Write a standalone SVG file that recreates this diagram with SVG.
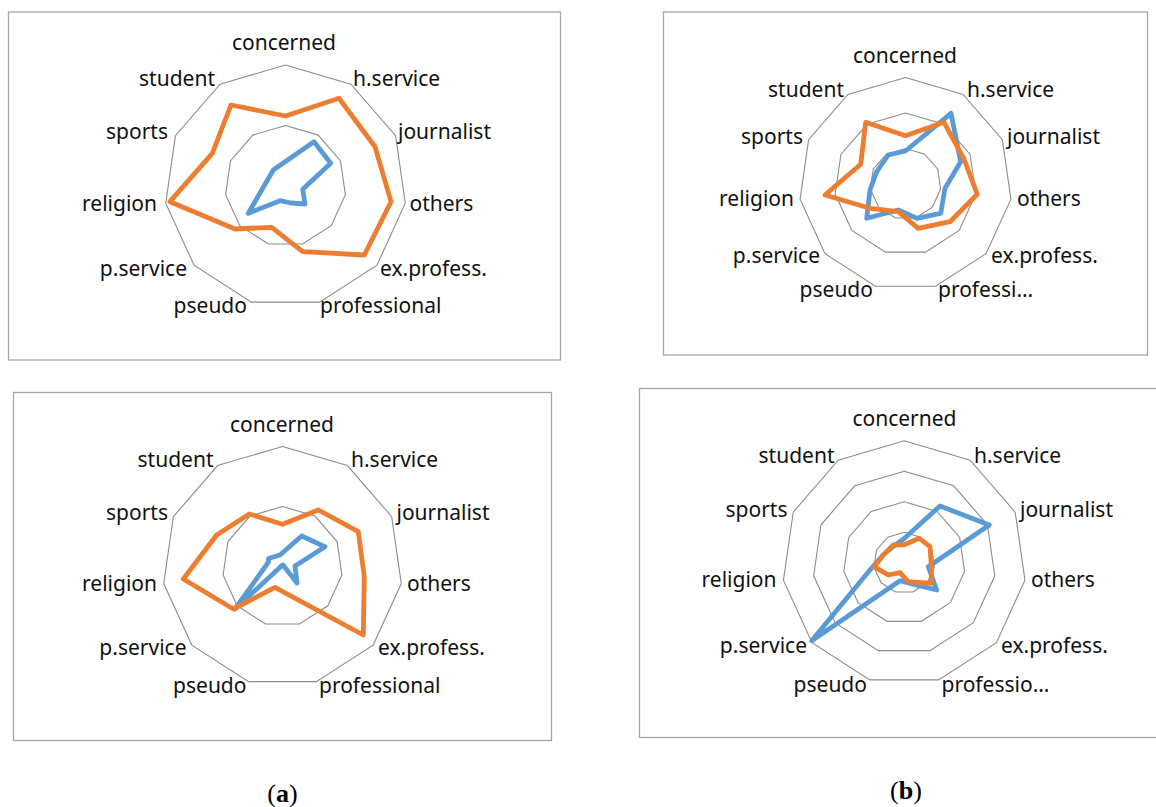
<svg xmlns="http://www.w3.org/2000/svg" xmlns:xlink="http://www.w3.org/1999/xlink" width="1156" height="807" viewBox="0 0 1156 807">
<style>
.frame{fill:#fff;stroke:#a6a6a6;stroke-width:1.3}
.ring{fill:none;stroke:#8c8c8c;stroke-width:1.1}
.lbl{font-family:"Noto Sans","Open Sans",sans-serif;font-size:21px;fill:#111}
.s{text-anchor:start}.e{text-anchor:end}.m{text-anchor:middle}
.blue{fill:none;stroke:#5b9bd5;stroke-width:4.8;stroke-linejoin:round}
.orange{fill:none;stroke:#ed7d31;stroke-width:4.8;stroke-linejoin:round}
.cap{font-family:"Liberation Serif","Times New Roman",serif;font-size:26px;fill:#000;text-anchor:middle}
</style>
<defs>
<path id="ring" d="M0,-1 L0.5406,-0.8413 L0.9096,-0.4154 L0.9898,0.1423 L0.7557,0.6549 L0.2817,0.9595 L-0.2817,0.9595 L-0.7557,0.6549 L-0.9898,0.1423 L-0.9096,-0.4154 L-0.5406,-0.8413 Z" vector-effect="non-scaling-stroke"/>
</defs>
<rect width="1156" height="807" fill="#fff"/>

<g id="chart1">
<rect class="frame" x="8.5" y="12" width="552" height="348"/>
<use class="ring" href="#ring" transform="translate(285.5 186) scale(121)"/>
<use class="ring" href="#ring" transform="translate(285.5 186) scale(60.5)"/>
<text class="lbl m" x="284" y="50">concerned</text>
<text class="lbl s" x="353" y="86">h.service</text>
<text class="lbl s" x="398" y="139">journalist</text>
<text class="lbl s" x="409.5" y="211">others</text>
<text class="lbl s" x="380" y="276">ex.profess.</text>
<text class="lbl s" x="320" y="312.5">professional</text>
<text class="lbl e" x="247" y="312.5">pseudo</text>
<text class="lbl e" x="187" y="276">p.service</text>
<text class="lbl e" x="157" y="211">religion</text>
<text class="lbl e" x="168" y="139">sports</text>
<text class="lbl e" x="215" y="86">student</text>
</g>

<g id="chart2">
<rect class="frame" x="663.5" y="12" width="484" height="343"/>
<use class="ring" href="#ring" transform="translate(905.5 184) scale(106.5)"/>
<use class="ring" href="#ring" transform="translate(905.5 184) scale(71)"/>
<use class="ring" href="#ring" transform="translate(905.5 184) scale(35.5)"/>
<text class="lbl m" x="905" y="63">concerned</text>
<text class="lbl s" x="967" y="97">h.service</text>
<text class="lbl s" x="1007" y="144">journalist</text>
<text class="lbl s" x="1017" y="206">others</text>
<text class="lbl s" x="991" y="263">ex.profess.</text>
<text class="lbl s" x="938" y="296.5">professi…</text>
<text class="lbl e" x="873" y="296.5">pseudo</text>
<text class="lbl e" x="820" y="263">p.service</text>
<text class="lbl e" x="794" y="206">religion</text>
<text class="lbl e" x="803" y="144">sports</text>
<text class="lbl e" x="844" y="97">student</text>
</g>

<g id="chart3">
<rect class="frame" x="13.5" y="392.5" width="538" height="348"/>
<use class="ring" href="#ring" transform="translate(282.5 566.5) scale(120)"/>
<use class="ring" href="#ring" transform="translate(282.5 566.5) scale(60)"/>
<text class="lbl m" x="282" y="431.5">concerned</text>
<text class="lbl s" x="351" y="467">h.service</text>
<text class="lbl s" x="396.5" y="520">journalist</text>
<text class="lbl s" x="407" y="590.5">others</text>
<text class="lbl s" x="378" y="655">ex.profess.</text>
<text class="lbl s" x="319" y="692.5">professional</text>
<text class="lbl e" x="246.5" y="692.5">pseudo</text>
<text class="lbl e" x="186.5" y="655">p.service</text>
<text class="lbl e" x="157" y="590.5">religion</text>
<text class="lbl e" x="168" y="520">sports</text>
<text class="lbl e" x="213.5" y="467">student</text>
</g>

<g id="chart4">
<rect class="frame" x="639.5" y="388.5" width="530" height="349"/>
<use class="ring" href="#ring" transform="translate(904.2 562.8) scale(122)"/>
<use class="ring" href="#ring" transform="translate(904.2 562.8) scale(91.5)"/>
<use class="ring" href="#ring" transform="translate(904.2 562.8) scale(61)"/>
<use class="ring" href="#ring" transform="translate(904.2 562.8) scale(30.5)"/>
<text class="lbl m" x="904.5" y="425.5">concerned</text>
<text class="lbl s" x="974" y="462.5">h.service</text>
<text class="lbl s" x="1020" y="516.5">journalist</text>
<text class="lbl s" x="1031" y="587">others</text>
<text class="lbl s" x="1001" y="652.5">ex.profess.</text>
<text class="lbl s" x="941.5" y="692">professio…</text>
<text class="lbl e" x="867" y="692">pseudo</text>
<text class="lbl e" x="807" y="652.5">p.service</text>
<text class="lbl e" x="776.5" y="587">religion</text>
<text class="lbl e" x="787.5" y="516.5">sports</text>
<text class="lbl e" x="834.5" y="462.5">student</text>
</g>

<g id="series">
<polygon class="blue" points="285.5,161.5 314,141.7 330.7,163.3 302.7,189.3 305,204 291,203 280,200.7 248.3,213.3 262,189.5 268.1,179 273.3,170"/>
<polygon class="orange" points="285.5,116 339,98.3 375,146.7 391,201.7 364.3,255 302.7,251.7 271.7,227.3 235,229 170,201.7 212.3,153.3 231,105"/>
<polygon class="blue" points="905.5,151 951,113.3 960.7,161.7 945,188.3 940.7,213.3 916.7,218.3 898.3,210 866.7,218.3 870,190 876.7,171.7 888.3,155"/>
<polygon class="orange" points="905.5,135.7 944,122.3 964,159 977.3,194.3 950,221.7 918.3,228.3 898.3,211.7 870,208.3 825,195 860.7,164.3 865.7,122.3"/>
<polygon class="blue" points="282.5,552.8 301.7,536 325,546.7 295,566 297,583 283,565 282,565.5 235,609 268.5,562 268.5,558.5 280,555"/>
<polygon class="orange" points="282.5,524.3 318.3,510 358.3,531.7 364.3,576.7 363.3,635 291.2,596.1 275,587.3 233.3,609 183.3,579 216.7,535 249.3,514"/>
<polygon class="blue" points="904.2,538.5 940,506 989.3,525 928.3,566.7 936.7,590 910.2,583.3 900,580.7 811.7,640.7 872,567.5 883.5,554.5 894,546"/>
<polygon class="orange" points="904.2,544.8 919.3,538.3 930,546.7 931.4,566.7 931.7,583.3 908.3,581.7 900,572.7 888.3,575 874,566.7 885,553.3 893.3,545"/>
</g>

<g id="captions">
<text class="cap" x="282.5" y="801.5">(<tspan font-weight="bold">a</tspan>)</text>
<text class="cap" x="906" y="798.5">(<tspan font-weight="bold">b</tspan>)</text>
</g>
</svg>
